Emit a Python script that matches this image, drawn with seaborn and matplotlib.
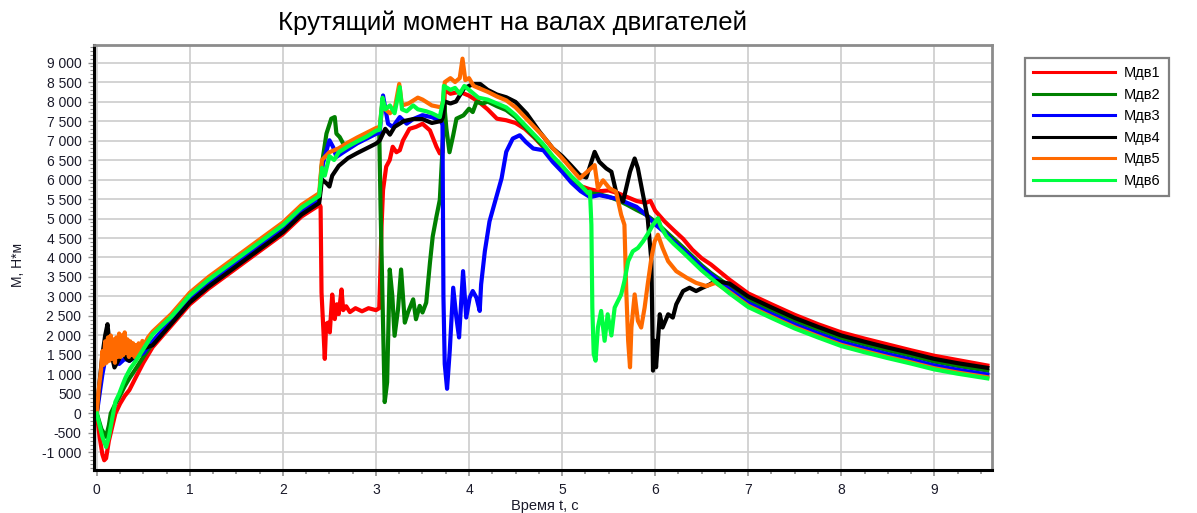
import numpy as np
import pandas as pd
import matplotlib
matplotlib.use("Agg")
import matplotlib.pyplot as plt
from matplotlib.ticker import FuncFormatter, MultipleLocator
from matplotlib.lines import Line2D
import seaborn as sns

# ---- torque on the motor shafts, N*m, versus time, s ----
t_m1 = [0, 0.03, 0.06, 0.08, 0.10, 0.13, 0.17, 0.20, 0.25, 0.30, 0.35, 0.42, 0.50, 0.60,
        0.80, 1.00, 1.20, 1.40, 1.60, 1.80, 2.00, 2.20, 2.395, 2.405, 2.415, 2.44, 2.45,
        2.465, 2.486, 2.504, 2.53, 2.557, 2.58, 2.60, 2.63, 2.648, 2.68, 2.72, 2.78, 2.85,
        2.92, 3.00, 3.035, 3.045, 3.06, 3.076, 3.11, 3.148, 3.18, 3.22, 3.256, 3.29, 3.36,
        3.43, 3.50, 3.58, 3.65, 3.686, 3.715, 3.74, 3.80, 3.90, 4.00, 4.10, 4.20, 4.30,
        4.40, 4.50, 4.60, 4.70, 4.80, 4.90, 5.00, 5.10, 5.20, 5.30, 5.40, 5.50, 5.60, 5.70,
        5.80, 5.90, 5.95, 6.00, 6.10, 6.20, 6.30, 6.40, 6.50, 6.60, 6.80, 7.00, 7.25, 7.50,
        7.75, 8.00, 8.25, 8.50, 8.75, 9.00, 9.25, 9.57]
m_m1 = [0, -600, -1050, -1200, -1150, -700, -300, 0, 250, 450, 600, 930, 1300, 1700,
        2250, 2800, 3200, 3550, 3900, 4250, 4600, 5050, 5350, 5300, 3100, 1900, 1400,
        2300, 2330, 2080, 3050, 2420, 2800, 2550, 3180, 2650, 2750, 2600, 2700, 2620,
        2700, 2650, 2700, 3450, 4800, 5730, 6330, 6500, 6840, 6700, 6750, 7000, 7300,
        7350, 7430, 7260, 6840, 6670, 6700, 8300, 8200, 8250, 8150, 8000, 7800, 7560,
        7520, 7450, 7300, 7080, 6830, 6550, 6300, 6030, 5830, 5750, 5700, 5720, 5650, 5550,
        5450, 5400, 5450, 5200, 4930, 4700, 4480, 4200, 3980, 3820, 3430, 3080, 2800, 2530,
        2290, 2080, 1920, 1770, 1620, 1480, 1370, 1230]

t_m2 = [0, 0.05, 0.10, 0.13, 0.15, 0.20, 0.24, 0.30, 0.35, 0.42, 0.50, 0.60, 0.80, 1.00,
        1.20, 1.40, 1.60, 1.80, 2.00, 2.20, 2.39, 2.415, 2.468, 2.52, 2.557, 2.575, 2.61,
        2.648, 2.70, 2.80, 2.90, 3.00, 3.035, 3.05, 3.094, 3.12, 3.148, 3.176, 3.20, 3.237,
        3.27, 3.31, 3.345, 3.40, 3.43, 3.47, 3.50, 3.54, 3.58, 3.61, 3.65, 3.686, 3.72,
        3.735, 3.757, 3.79, 3.83, 3.865, 3.94, 4.00, 4.04, 4.08, 4.15, 4.20, 4.30, 4.40,
        4.50, 4.60, 4.70, 4.80, 4.90, 5.00, 5.10, 5.20, 5.30, 5.40, 5.50, 5.60, 5.70, 5.80,
        5.90, 6.00, 6.10, 6.20, 6.30, 6.40, 6.50, 6.60, 6.80, 7.00, 7.25, 7.50, 7.75, 8.00,
        8.25, 8.50, 8.75, 9.00, 9.25, 9.57]
m_m2 = [0, -400, -600, -300, 0, 250, 415, 700, 900, 1150, 1450, 1800, 2380, 2930,
        3330, 3680, 4030, 4380, 4730, 5180, 5480, 6327, 7177, 7560, 7602, 7177, 7090,
        6922, 6850, 6980, 7100, 7220, 7250, 5222, 292, 802, 3692, 3010, 1992, 2670,
        3692, 2330, 2600, 2927, 2417, 2760, 2590, 2842, 3862, 4542, 5052, 5477, 7000,
        7900, 7300, 6700, 7135, 7560, 7645, 7815, 7730, 7985, 7950, 8000, 7880, 7780,
        7600, 7350, 7100, 6850, 6550, 6300, 6020, 5800, 5650, 5620, 5560, 5470, 5350, 5220,
        5100, 4920, 4700, 4480, 4260, 4030, 3800, 3600, 3260, 2920, 2650, 2380, 2150, 1930,
        1770, 1620, 1480, 1330, 1220, 1100]

t_m3 = [0, 0.03, 0.06, 0.10, 0.15, 0.19, 0.24, 0.30, 0.35, 0.42, 0.50, 0.60, 0.80, 1.00,
        1.20, 1.40, 1.60, 1.80, 2.00, 2.20, 2.39, 2.43, 2.50, 2.54, 2.575, 2.65, 2.80,
        2.90, 3.00, 3.04, 3.076, 3.13, 3.18, 3.256, 3.33, 3.40, 3.50, 3.60, 3.70, 3.715,
        3.725, 3.739, 3.764, 3.793, 3.83, 3.864, 3.893, 3.936, 3.97, 4.007, 4.04, 4.08,
        4.115, 4.13, 4.17, 4.22, 4.29, 4.35, 4.40, 4.47, 4.545, 4.61, 4.69, 4.80, 4.90,
        5.00, 5.10, 5.20, 5.30, 5.40, 5.50, 5.60, 5.70, 5.80, 5.90, 6.00, 6.10, 6.20, 6.30,
        6.40, 6.50, 6.60, 6.80, 7.00, 7.25, 7.50, 7.75, 8.00, 8.25, 8.50, 8.75, 9.00, 9.25,
        9.57]
m_m3 = [0, 500, 1000, 1500, 1950, 1700, 1270, 1400, 1350, 1450, 1550, 1850, 2400, 2950,
        3350, 3700, 4050, 4400, 4750, 5200, 5500, 6412, 7007, 6830, 6580, 6700, 6930,
        7050, 7170, 7200, 8155, 7432, 7347, 7602, 7432, 7550, 7650, 7600, 7500, 7400,
        3000, 1270, 633, 1610, 3225, 2460, 1950, 3650, 2460, 2970, 3140, 2970,
        2630, 3310, 4160, 4925, 5520, 6030, 6710, 7050, 7135, 6965, 6795, 6750, 6450,
        6200, 5920, 5700, 5550, 5600, 5550, 5500, 5400, 5300, 5100, 4850, 4650, 4400, 4200,
        3980, 3750, 3560, 3180, 2830, 2550, 2280, 2050, 1830, 1670, 1520, 1380, 1230, 1120,
        1000]

t_m4 = [0, 0.03, 0.06, 0.09, 0.115, 0.14, 0.19, 0.24, 0.28, 0.32, 0.35, 0.42, 0.48, 0.53,
        0.60, 0.80, 1.00, 1.20, 1.40, 1.60, 1.80, 2.00, 2.20, 2.39, 2.42, 2.47, 2.50, 2.53,
        2.60, 2.70, 2.80, 2.90, 3.00, 3.04, 3.10, 3.15, 3.20, 3.30, 3.40, 3.50, 3.60, 3.70,
        3.72, 3.74, 3.80, 3.86, 3.95, 4.05, 4.12, 4.20, 4.30, 4.40, 4.50, 4.62, 4.76, 4.90,
        5.00, 5.10, 5.19, 5.26, 5.35, 5.40, 5.475, 5.53, 5.58, 5.655, 5.73, 5.78, 5.815,
        5.87, 5.92, 5.96, 5.977, 5.995, 6.01, 6.05, 6.08, 6.14, 6.19, 6.227, 6.30, 6.37,
        6.44, 6.51, 6.58, 6.65, 6.80, 7.00, 7.25, 7.50, 7.75, 8.00, 8.25, 8.50, 8.75, 9.00,
        9.25, 9.57]
m_m4 = [0, 800, 1500, 2000, 2290, 1700, 1180, 1400, 1560, 1400, 1350, 1500, 1650, 1690,
        1750, 2300, 2850, 3250, 3600, 3950, 4300, 4650, 5100, 5400, 6000, 5900, 5820, 6100,
        6350, 6550, 6680, 6800, 6920, 7000, 7300, 7150, 7350, 7500, 7550, 7550, 7450, 7500,
        7600, 8000, 7950, 8000, 8350, 8450, 8450, 8300, 8180, 8110, 7990, 7690, 7220, 6800,
        6600, 6350, 6114, 6050, 6709, 6454, 6284, 6199, 5689, 5434, 6199, 6539, 6284,
        5604, 5009, 3904, 1099, 1864, 1184, 2544, 2204, 2544, 2459, 2799, 3139, 3224,
        3139, 3224, 3300, 3400, 3330, 3000, 2720, 2450, 2220, 2000, 1840, 1690, 1550, 1400,
        1290, 1170]

t_m5 = [0, 0.02, 0.045, 0.06, 0.075, 0.09, 0.105, 0.12, 0.135, 0.15, 0.165, 0.18, 0.195,
        0.21, 0.225, 0.24, 0.255, 0.27, 0.285, 0.30, 0.315, 0.33, 0.345, 0.36, 0.375, 0.39,
        0.405, 0.42, 0.435, 0.45, 0.47, 0.49, 0.52, 0.55, 0.60, 0.80, 1.00, 1.20, 1.40,
        1.60, 1.80, 2.00, 2.20, 2.39, 2.42, 2.50, 2.60, 2.70, 2.80, 2.90, 3.00, 3.04, 3.07,
        3.10, 3.15, 3.20, 3.25, 3.28, 3.35, 3.45, 3.50, 3.60, 3.70, 3.72, 3.74, 3.80, 3.85,
        3.90, 3.93, 3.96, 4.00, 4.05, 4.10, 4.20, 4.30, 4.40, 4.50, 4.60, 4.70, 4.80, 4.90,
        5.00, 5.10, 5.19, 5.31, 5.35, 5.385, 5.44, 5.51, 5.58, 5.635, 5.67, 5.69, 5.71,
        5.73, 5.745, 5.78, 5.815, 5.85, 5.887, 5.92, 5.96, 5.995, 6.03, 6.08, 6.14, 6.227,
        6.34, 6.44, 6.55, 6.65, 6.80, 7.00, 7.25, 7.50, 7.75, 8.00, 8.25, 8.50, 8.75, 9.00,
        9.25, 9.57]
m_m5 = [0, 600, 1100, 1600, 1250, 1850, 1300, 1950, 1350, 2000, 1400, 1900, 1300, 1950,
        1450, 2050, 1450, 2000, 1500, 2080, 1550, 1900, 1450, 1850, 1500, 1800, 1450, 1750,
        1550, 1800, 1600, 1860, 1800, 1950, 2100, 2550, 3100, 3500, 3850, 4200, 4550,
        4900, 5350, 5650, 6500, 6700, 6800, 6950, 7080, 7200, 7320, 7350, 8000,
        7800, 7700, 7800, 8450, 7900, 7950, 8100, 8050, 7900, 7850, 8000, 8500, 8600, 8500,
        8600, 9100, 8550, 8600, 8400, 8350, 8250, 8130, 8030, 7850, 7600, 7350, 7100, 6800,
        6550, 6270, 6029, 6284, 6369, 5774, 5980, 5774, 5689, 5094, 4840, 3139, 1864,
        1184, 2204, 3054, 2374, 2204, 2714, 3309, 3989, 4414, 4584, 4244, 3904, 3649,
        3479, 3350, 3267, 3350, 3110, 2760, 2480, 2210, 1980, 1760, 1600, 1450, 1310, 1160,
        1050, 930]

t_m6 = [0, 0.03, 0.06, 0.10, 0.13, 0.16, 0.20, 0.24, 0.28, 0.31, 0.36, 0.42, 0.50, 0.60,
        0.80, 1.00, 1.20, 1.40, 1.60, 1.80, 2.00, 2.20, 2.39, 2.42, 2.45, 2.50, 2.55, 2.60,
        2.70, 2.80, 2.90, 3.00, 3.04, 3.07, 3.10, 3.15, 3.20, 3.256, 3.28, 3.33, 3.40, 3.45,
        3.54, 3.60, 3.686, 3.72, 3.73, 3.80, 3.85, 3.90, 3.95, 4.00, 4.10, 4.20, 4.30, 4.40,
        4.50, 4.60, 4.70, 4.80, 4.90, 5.00, 5.10, 5.20, 5.28, 5.30, 5.315, 5.325, 5.34, 5.36,
        5.385, 5.42, 5.457, 5.49, 5.53, 5.565, 5.60, 5.635, 5.67, 5.71, 5.76, 5.815, 5.87,
        5.92, 5.977, 6.03, 6.06, 6.12, 6.20, 6.30, 6.40, 6.50, 6.60, 6.80, 7.00, 7.25, 7.50,
        7.75, 8.00, 8.25, 8.50, 8.75, 9.00, 9.25, 9.57]
m_m6 = [0, -300, -600, -860, -600, -200, 300, 500, 750, 925, 1150, 1350, 1650, 2030,
        2480, 3030, 3430, 3780, 4130, 4480, 4830, 5280, 5580, 6300, 6100, 6600, 6500, 6700,
        6850, 6980, 7100, 7250, 7280, 8100, 7800, 7900, 7700, 8370, 7800, 7750, 7900, 7800,
        7750, 7700, 7600, 8000, 8400, 8300, 8350, 8200, 8400, 8300, 8100, 8050, 7950, 7850,
        7650, 7400, 7150, 6900, 6600, 6350, 6080, 5850, 5650, 5689, 4840, 2714, 1524, 1354,
        2204, 2629, 1864, 2544, 2000, 2714, 2884, 3050, 3394, 3904, 4159, 4244, 4414,
        4600, 4839, 5009, 4800, 4550, 4350, 4130, 3900, 3670, 3470, 3080, 2730, 2450, 2180,
        1950, 1730, 1570, 1420, 1280, 1130, 1020, 900]

names = ["Мдв1", "Мдв2", "Мдв3", "Мдв4", "Мдв5", "Мдв6"]
colors = ["#ff0000", "#008000", "#0000ff", "#000000", "#ff6a00", "#00ff40"]
times = [t_m1, t_m2, t_m3, t_m4, t_m5, t_m6]
values = [m_m1, m_m2, m_m3, m_m4, m_m5, m_m6]

df = pd.concat(
    [pd.DataFrame({"t": t, "M": m, "series": n}) for t, m, n in zip(times, values, names)],
    ignore_index=True,
)

W, H = 1197, 513
fig = plt.figure(figsize=(W / 100, H / 100), dpi=100)
plt.rcParams["font.family"] = ["Liberation Sans", "DejaVu Sans"]
ax = fig.add_axes([94 / W, 1 - 470 / H, (992 - 94) / W, (470 - 45) / H])

sns.lineplot(data=df, x="t", y="M", hue="series", hue_order=names,
             palette=dict(zip(names, colors)), sort=False, estimator=None,
             linewidth=3.0, legend=False, ax=ax)

ax.set_xlim(-0.03, 9.62)
ax.set_ylim(-1450, 9450)
ax.xaxis.set_major_locator(MultipleLocator(1))
ax.xaxis.set_minor_locator(MultipleLocator(0.25))
ax.yaxis.set_major_locator(MultipleLocator(500))
ax.yaxis.set_minor_locator(MultipleLocator(100))
ax.yaxis.set_major_formatter(FuncFormatter(lambda v, p: f"{int(v):,}".replace(",", " ")))
ax.grid(True, which="major", color="#d0d0d0", linewidth=1.3)
ax.set_axisbelow(True)
ax.tick_params(axis="both", which="both", colors="#909090", labelcolor="#1a1a2a",
               labelsize=10, direction="out")
ax.tick_params(axis="x", which="major", length=4, width=1.2, pad=5)
ax.tick_params(axis="x", which="minor", length=3, width=1.2)
ax.tick_params(axis="y", which="major", length=4, width=1.0, pad=5)
ax.tick_params(axis="y", which="minor", length=3, width=0.8)
ax.set_xlabel("")
ax.set_ylabel("")

for side in ("left", "bottom"):
    ax.spines[side].set_color("black")
    ax.spines[side].set_linewidth(2.2)
for side in ("top", "right"):
    ax.spines[side].set_color("#8c8c8c")
    ax.spines[side].set_linewidth(2.0)

fig.text(512 / W, 1 - 23 / H, "Крутящий момент на валах двигателей",
         ha="center", va="center", fontsize=18.5, color="black")
fig.text(18 / W, 1 - 265 / H, "М, Н*м", rotation=90, ha="center", va="center",
         fontsize=10, color="#1a1a2a")
fig.text(545 / W, 1 - 506 / H, "Время t, с", ha="center", va="center",
         fontsize=10.5, color="#1a1a2a")

handles = [Line2D([], [], color=c, linewidth=2.2) for c in colors]
leg = fig.legend(handles, names, loc="upper left",
                 bbox_to_anchor=(1025 / W, 1 - 58 / H), bbox_transform=fig.transFigure,
                 borderaxespad=0, fontsize=10.5, handlelength=5.6, handletextpad=0.65,
                 labelspacing=0.52, borderpad=0.55, fancybox=False, framealpha=1)
leg.get_frame().set_edgecolor("#808080")
leg.get_frame().set_linewidth(1.6)

fig.savefig("out.png", dpi=100)
